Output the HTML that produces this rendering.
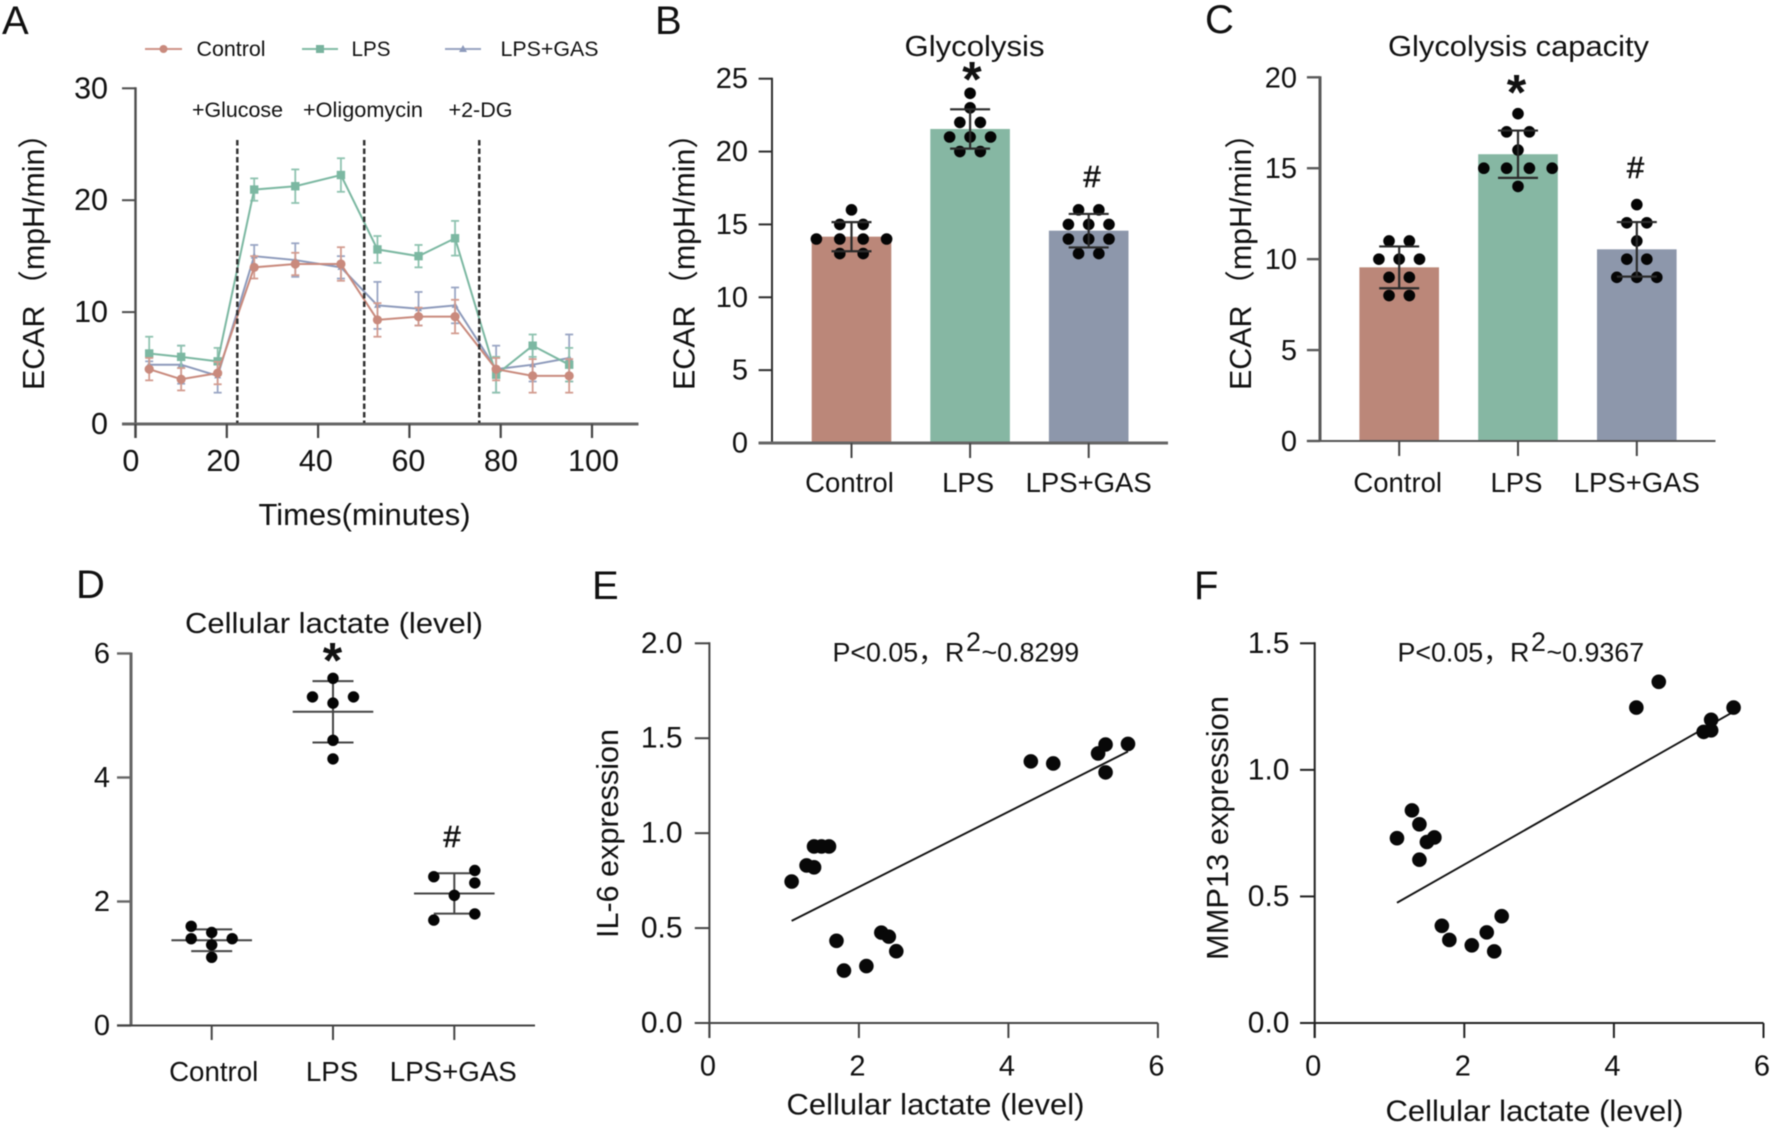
<!DOCTYPE html>
<html lang="en">
<head>
<meta charset="utf-8">
<title>ECAR, glycolysis and cellular lactate figure</title>
<style>
html,body{margin:0;padding:0;background:#fff;}
#figure{display:block;width:1772px;height:1131px;filter:blur(0.55px);}
text{font-family:"Liberation Sans","Noto Sans CJK SC",sans-serif;fill:#111;}
.letter{font-size:40px;}
.ytitle{font-size:30.4px;}
.legend{font-size:21.5px;}
.note{font-size:21px;}
.mark{font-size:50px;font-weight:bold;text-anchor:middle;}
.hash{font-size:31px;text-anchor:middle;stroke:#111;stroke-width:0.6px;}
.ptext{font-size:26.8px;}
</style>
</head>
<body>
<svg id="figure" xmlns="http://www.w3.org/2000/svg" width="1772" height="1131" viewBox="0 0 1772 1131">
  <rect x="0" y="0" width="1772" height="1131" fill="#fff"/>

  <text class="letter" x="2" y="34">A</text>
  <text class="letter" x="655" y="34">B</text>
  <text class="letter" x="1205" y="33">C</text>
  <text class="letter" x="76" y="598">D</text>
  <text class="letter" x="592" y="599">E</text>
  <text class="letter" x="1194" y="599">F</text>

  <g>
    <g>
      <line x1="145" y1="49" x2="182" y2="49" stroke="#cf9488" stroke-width="2"/>
      <circle cx="163.500" cy="49" r="4" fill="#c98a7d"/>
      <text class="legend" x="196.500" y="56" textLength="69" lengthAdjust="spacingAndGlyphs">Control</text>
    </g>
    <g>
      <line x1="302" y1="49" x2="338" y2="49" stroke="#82bba6" stroke-width="2"/>
      <rect x="316" y="45" width="8" height="8" fill="#78b39e"/>
      <text class="legend" x="351.500" y="56" textLength="39" lengthAdjust="spacingAndGlyphs">LPS</text>
    </g>
    <g>
      <line x1="445" y1="49" x2="481" y2="49" stroke="#98a4c2" stroke-width="2"/>
      <polygon points="463,45 467,52 459,52" fill="#8d9abb"/>
      <text class="legend" x="500.500" y="56" textLength="98" lengthAdjust="spacingAndGlyphs">LPS+GAS</text>
    </g>
  </g>

  <text class="note" x="192" y="117" textLength="91" lengthAdjust="spacingAndGlyphs">+Glucose</text>
  <text class="note" x="303" y="117" textLength="120" lengthAdjust="spacingAndGlyphs">+Oligomycin</text>
  <text class="note" x="448.500" y="117" textLength="64" lengthAdjust="spacingAndGlyphs">+2-DG</text>

  <text class="ytitle" transform="translate(44,390) rotate(-90)">ECAR<tspan dx="5">（mpH/min）</tspan></text>
  <text x="258.500" y="525" font-size="31" textLength="212" lengthAdjust="spacingAndGlyphs">Times(minutes)</text>

  <text x="904.500" y="56" font-size="28.500" textLength="140" lengthAdjust="spacingAndGlyphs">Glycolysis</text>
  <text class="ytitle" transform="translate(694.500,390) rotate(-90)">ECAR<tspan dx="5">（mpH/min）</tspan></text>
  <text class="mark" x="972" y="96.500">*</text>
  <text class="hash" x="1092" y="187">#</text>

  <text x="1388" y="56" font-size="28.500" textLength="261" lengthAdjust="spacingAndGlyphs">Glycolysis capacity</text>
  <text class="ytitle" transform="translate(1251,390) rotate(-90)">ECAR<tspan dx="5">（mpH/min）</tspan></text>
  <text class="mark" x="1516.500" y="109.500">*</text>
  <text class="hash" x="1635.500" y="178">#</text>

  <text x="185" y="633" font-size="29" textLength="298" lengthAdjust="spacingAndGlyphs">Cellular lactate (level)</text>
  <text class="mark" x="332.500" y="677.500">*</text>
  <text class="hash" x="452" y="847">#</text>

  <text transform="translate(618,938) rotate(-90)" font-size="31" textLength="209" lengthAdjust="spacingAndGlyphs">IL-6 expression</text>
  <text x="786.500" y="1114.500" font-size="30" textLength="298" lengthAdjust="spacingAndGlyphs">Cellular lactate (level)</text>
  <g>
    <text class="ptext" x="832.500" y="661.500">P&lt;0.05，</text>
    <text class="ptext" x="945" y="661.500">R</text>
    <text class="ptext" x="966" y="651">2</text>
    <text class="ptext" x="981.500" y="661.500">~0.8299</text>
  </g>

  <text transform="translate(1228,960) rotate(-90)" font-size="31" textLength="264" lengthAdjust="spacingAndGlyphs">MMP13 expression</text>
  <text x="1385.500" y="1121" font-size="30" textLength="298" lengthAdjust="spacingAndGlyphs">Cellular lactate (level)</text>
  <g>
    <text class="ptext" x="1397.500" y="661.500">P&lt;0.05，</text>
    <text class="ptext" x="1510" y="661.500">R</text>
    <text class="ptext" x="1531" y="651">2</text>
    <text class="ptext" x="1546.500" y="661.500">~0.9367</text>
  </g>

  <g id="plots"></g>
</svg>

<script>
// ---------- Shared categories ----------
const groupNames = ['Control', 'LPS', 'LPS+GAS'];

// ---------- Panel A data ----------
const aTimes = [3, 10, 18, 26, 35, 45, 53, 62, 70, 79, 87, 95];
const aControl = [4.9, 4.0, 4.55, 14.0, 14.3, 14.3, 9.3, 9.6, 9.6, 4.9, 4.3, 4.3];
const aControlErr = [1.0, 1.0, 1.0, 1.0, 1.0, 1.5, 1.5, 0.8, 1.5, 1.0, 1.5, 1.5];
const aLps = [6.3, 6.0, 5.6, 20.95, 21.25, 22.25, 15.6, 15.0, 16.6, 4.4, 7.0, 5.3];
const aLpsErr = [1.5, 1.0, 1.2, 1.0, 1.5, 1.5, 1.2, 1.0, 1.55, 1.6, 1.0, 1.5];
const aGas = [5.3, 5.3, 4.3, 15.0, 14.65, 14.0, 10.6, 10.3, 10.6, 4.9, 5.3, 5.9];
const aGasErr = [0.3, 1.7, 1.5, 1.0, 1.5, 1.0, 2.1, 1.5, 1.6, 2.1, 1.5, 2.1];
const aInjectionTimes = [22.3, 50.1, 75.3];
const aXTicks = [0, 20, 40, 60, 80, 100];
const aYTicks = [0, 10, 20, 30];

// ---------- Panel B data ----------
const bMeans = [14.16, 21.55, 14.57];
const bErrs = [1.0, 1.35, 1.15];
const bControlDots = [16, 15, 15, 14, 14, 14, 14, 13, 13];
const bLpsDots = [24, 23, 22, 22, 21, 21, 21, 20, 20];
const bGasDots = [16, 16, 15, 15, 15, 14, 14, 14, 13, 13];
const bYTicks = [0, 5, 10, 15, 20, 25];

// ---------- Panel C data ----------
const cMeans = [9.55, 15.77, 10.54];
const cErrs = [1.15, 1.3, 1.5];
const cControlDots = [11, 11, 10, 10, 10, 9, 9, 8, 8];
const cLpsDots = [18, 17, 17, 16, 15, 15, 15, 15, 14];
const cGasDots = [13, 12, 12, 11, 10, 10, 9, 9, 9];
const cYTicks = [0, 5, 10, 15, 20];

// ---------- Panel D data ----------
const dMeans = [1.375, 5.06, 2.13];
const dErrs = [0.175, 0.495, 0.325];
const dControlDots = [1.6, 1.5, 1.4, 1.4, 1.3, 1.1];
const dControlColumns = [-1, 0, -1, 1, 0, 0];
const dLpsDots = [5.6, 5.3, 5.3, 5.2, 4.6, 4.3];
const dLpsColumns = [0, -1, 1, 0, 0, 0];
const dGasDots = [2.5, 2.4, 2.3, 2.1, 1.8, 1.7];
const dGasColumns = [1, -1, 1, 0, 1, -1];
const dYTicks = [0, 2, 4, 6];

// ---------- Panel E data ----------
const eLactate = [1.1, 1.3, 1.4, 1.4, 1.5, 1.6, 1.7, 1.8, 2.1, 2.3, 2.4, 2.5, 4.3, 4.6, 5.2, 5.3, 5.3, 5.6];
const eIl6 = [0.745, 0.83, 0.82, 0.93, 0.93, 0.93, 0.433, 0.276, 0.3, 0.476, 0.455, 0.378, 1.378, 1.367, 1.42, 1.467, 1.32, 1.47];
const eFitX = [1.1, 5.6];
const eFitY = [0.538, 1.43];
const eXTicks = [0, 2, 4, 6];
const eYTicks = ['0.0', '0.5', '1.0', '1.5', '2.0'];

// ---------- Panel F data ----------
const fLactate = [1.1, 1.3, 1.4, 1.4, 1.5, 1.6, 1.7, 1.8, 2.1, 2.3, 2.4, 2.5, 4.3, 4.6, 5.2, 5.3, 5.3, 5.6];
const fMmp13 = [0.73, 0.84, 0.785, 0.645, 0.715, 0.733, 0.384, 0.328, 0.307, 0.358, 0.283, 0.422, 1.246, 1.348, 1.15, 1.156, 1.198, 1.246];
const fFitX = [1.1, 5.6];
const fFitY = [0.475, 1.23];
const fXTicks = [0, 2, 4, 6];
const fYTicks = ['0.0', '0.5', '1.0', '1.5'];

// ---------- Helpers ----------
const SVG_NS = 'http://www.w3.org/2000/svg';
const plots = document.getElementById('plots');

function make(tag, attrs, name, parent) {
  const el = document.createElementNS(SVG_NS, tag);
  Object.keys(attrs).forEach(function (k) { el.setAttribute(k, attrs[k]); });
  
  
  (parent || plots).appendChild(el);
  return el;
}
function line(x1, y1, x2, y2, stroke, width, name, parent) {
  return make('line', { x1: x1, y1: y1, x2: x2, y2: y2, stroke: stroke, 'stroke-width': width }, name, parent);
}
function label(x, y, str, size, anchor, name, parent) {
  const t = make('text', { x: x, y: y, 'font-size': size, 'text-anchor': anchor }, name, parent);
  t.textContent = str;
  return t;
}
function linear(d0, d1, r0, r1) {
  return function (v) { return r0 + (v - d0) * (r1 - r0) / (d1 - d0); };
}
function errorBar(cx, yTop, yBottom, half, stroke, width, name, parent) {
  line(cx, yTop, cx, yBottom, stroke, width, name + '-stem', parent);
  line(cx - half, yTop, cx + half, yTop, stroke, width, name + '-cap-top', parent);
  line(cx - half, yBottom, cx + half, yBottom, stroke, width, name + '-cap-bottom', parent);
}
function yAxis(p, ticks, y, parent) {
  line(p.axisX, y(Number(ticks[ticks.length - 1])) - 1, p.axisX, p.y0 + (p.yAxisTail || 0), p.yColor, p.yWidth, p.id + '-y-axis', parent);
  ticks.forEach(function (t) {
    const py = y(Number(t));
    line(p.tickLeft, py, p.axisX, py, p.yColor, p.yWidth === 3 ? 2.4 : 2, p.id + '-y-tick', parent);
    label(p.labelRight, py + p.labelDy, String(t), p.tickSize, 'end', p.id + '-y-tick-label', parent);
  });
}

// ---------- Panel A ----------
(function () {
  const g = make('g', {}, 'panel-a-line-chart');
  const p = { id: 'a', axisX: 135.5, y0: 424, yColor: '#4d4d4d', yWidth: 2.4, tickLeft: 122, labelRight: 108, labelDy: 10, tickSize: 30.5, yAxisTail: 14 };
  const x = linear(0, 100, 135.5, 592);
  const xLabel = linear(0, 100, 130.8, 593.5);
  const y = linear(0, 30, 424, 88.3);
  yAxis(p, aYTicks, y, g);
  line(122, 424, 638.5, 424, '#666', 3, 'a-x-axis', g);
  aXTicks.forEach(function (t) {
    line(x(t), 424, x(t), 438, '#444', 2.2, 'a-x-tick', g);
    label(xLabel(t), 471, String(t), 30.5, 'middle', 'a-x-tick-label', g);
  });
  const series = [
    { id: 'lps-gas', v: aGas, e: aGasErr, c: '#8d9abb', err: '#9aa6c4' },
    { id: 'lps', v: aLps, e: aLpsErr, c: '#7cb8a2', err: '#8fc3b0' },
    { id: 'control', v: aControl, e: aControlErr, c: '#c98a7d', err: '#d39c90' }
  ];
  series.forEach(function (s) {
    const sg = make('g', {}, 'a-series-' + s.id, g);
    s.v.forEach(function (v, i) {
      errorBar(x(aTimes[i]), y(v + s.e[i]), y(v - s.e[i]), 4, s.err, 1.8, 'a-error-' + s.id, sg);
    });
    const pts = s.v.map(function (v, i) { return x(aTimes[i]) + ',' + y(v); }).join(' ');
    make('polyline', { points: pts, fill: 'none', stroke: s.c, 'stroke-width': 2 }, 'a-line-' + s.id, sg);
    s.v.forEach(function (v, i) {
      const px = x(aTimes[i]), py = y(v);
      if (s.id === 'control') {
        make('circle', { cx: px, cy: py, r: 4.6, fill: s.c }, 'a-point-control', sg);
      } else if (s.id === 'lps') {
        make('rect', { x: px - 4.2, y: py - 4.2, width: 8.4, height: 8.4, fill: s.c }, 'a-point-lps', sg);
      } else {
        make('polygon', { points: px + ',' + (py - 3.5) + ' ' + (px + 3.5) + ',' + (py + 2.5) + ' ' + (px - 3.5) + ',' + (py + 2.5), fill: s.c }, 'a-point-lps-gas', sg);
      }
    });
  });
  aInjectionTimes.forEach(function (t) {
    const d = line(x(t), 140, x(t), 423, '#333', 2.5, 'a-injection-line', g);
    d.setAttribute('stroke-dasharray', '5.5 3');
  });
})();

// ---------- Bar panels B, C ----------
function rowOffsets(values, spacing) {
  const rows = {};
  values.forEach(function (v, i) { (rows[v] = rows[v] || []).push(i); });
  const out = new Array(values.length);
  Object.keys(rows).forEach(function (k) {
    const idx = rows[k];
    idx.forEach(function (vi, j) { out[vi] = (j - (idx.length - 1) / 2) * spacing; });
  });
  return out;
}
const barFills = ['#bb8779', '#86b7a3', '#8d97ab'];
function barPanel(p, means, errs, dots, ticks, spacings) {
  const g = make('g', {}, 'panel-' + p.id + '-bar-chart');
  const y = linear(0, Number(ticks[ticks.length - 1]), p.y0, p.yTop);
  means.forEach(function (m, i) {
    const cx = p.c0 + i * p.step;
    make('rect', { x: cx - 39.8, y: y(m), width: 79.6, height: p.y0 - y(m), fill: barFills[i] }, p.id + '-bar-' + groupNames[i].toLowerCase().replace('+', '-'), g);
  });
  yAxis(p, ticks, y, g);
  line(p.tickLeft, p.y0, p.axisEnd, p.y0, p.xColor, p.xWidth, p.id + '-x-axis', g);
  means.forEach(function (m, i) {
    const cx = p.c0 + i * p.step;
    line(cx, p.y0, cx, p.y0 + 15, '#444', 2, p.id + '-x-tick', g);
    label(cx + p.catDx[i], p.catY, groupNames[i], 27.5, 'middle', p.id + '-category-label', g);
    const off = rowOffsets(dots[i], spacings[i]);
    dots[i].forEach(function (v, j) {
      make('circle', { cx: cx + off[j], cy: y(v), r: 5.8, fill: '#050505' }, p.id + '-dot', g);
    });
    errorBar(cx, y(m + errs[i]), y(m - errs[i]), 20, '#2b2b2b', 2.2, p.id + '-error-bar', g);
  });
}
barPanel({ id: 'b', axisX: 772, y0: 443, yTop: 78.7, tickLeft: 758.6, axisEnd: 1168, labelRight: 748, labelDy: 9.5, tickSize: 29, yColor: '#2e2e2e', yWidth: 2, xColor: '#666', xWidth: 3, c0: 851.5, step: 118.6, catDx: [-2, -2, 0], catY: 492 },
  bMeans, bErrs, [bControlDots, bLpsDots, bGasDots], bYTicks, [23.4, 20.5, 20.3]);
barPanel({ id: 'c', axisX: 1320, y0: 441, yTop: 77.3, tickLeft: 1306.9, axisEnd: 1715.5, labelRight: 1297, labelDy: 10, tickSize: 29, yColor: '#5a5a5a', yWidth: 3, xColor: '#555', xWidth: 2, c0: 1399.2, step: 118.8, catDx: [-1.5, -1.5, 0], catY: 492 },
  cMeans, cErrs, [cControlDots, cLpsDots, cGasDots], cYTicks, [20.3, 22.8, 20]);

// ---------- Panel D ----------
(function () {
  const g = make('g', {}, 'panel-d-scatter-dot-plot');
  const p = { id: 'd', axisX: 131, y0: 1025.5, yColor: '#666', yWidth: 3, tickLeft: 117, labelRight: 110, labelDy: 9.5, tickSize: 29 };
  const y = linear(0, 6, 1025.5, 653.5);
  yAxis(p, dYTicks, y, g);
  line(117, 1025.5, 535, 1025.5, '#444', 2, 'd-x-axis', g);
  const dots = [dControlDots, dLpsDots, dGasDots];
  const cols = [dControlColumns, dLpsColumns, dGasColumns];
  dMeans.forEach(function (m, i) {
    const cx = 211.7 + i * 121.3;
    line(cx, 1025.5, cx, 1040, '#444', 2, 'd-x-tick', g);
    label(cx + [2, -1, -1][i], 1081, groupNames[i], 27.7, 'middle', 'd-category-label', g);
    line(cx - 40.3, y(m), cx + 40.3, y(m), '#444', 2, 'd-mean-line', g);
    errorBar(cx, y(m + dErrs[i]), y(m - dErrs[i]), 20.5, '#444', 2, 'd-error-bar', g);
    dots[i].forEach(function (v, j) {
      make('circle', { cx: cx + cols[i][j] * 20.5, cy: y(v), r: 5.7, fill: '#050505' }, 'd-dot', g);
    });
  });
})();

// ---------- Correlation panels E, F ----------
function corrPanel(p, xs, ys, fitX, fitY, xTicks, yTicks) {
  const g = make('g', {}, 'panel-' + p.id + '-correlation-plot');
  const x = linear(0, 6, p.axisX, p.x6);
  const y = linear(0, Number(yTicks[yTicks.length - 1]), 1023, 643.3);
  yAxis(p, yTicks, y, g);
  line(p.tickLeft, 1023, p.x6, 1023, p.yColor, 2, p.id + '-x-axis', g);
  xTicks.forEach(function (t) {
    line(x(t), 1023, x(t), 1038, p.yColor, 2, p.id + '-x-tick', g);
    label(x(t) - 1.5, 1075.5, String(t), 29, 'middle', p.id + '-x-tick-label', g);
  });
  line(x(fitX[0]), y(fitY[0]), x(fitX[1]), y(fitY[1]), '#111', 1.9, p.id + '-regression-line', g);
  xs.forEach(function (v, i) {
    make('circle', { cx: x(v), cy: y(ys[i]), r: 7.3, fill: '#080808' }, p.id + '-point', g);
  });
}
corrPanel({ id: 'e', axisX: 709.4, x6: 1157.9, y0: 1023, yColor: '#444', yWidth: 2, tickLeft: 694.8, labelRight: 682.6, labelDy: 9.5, tickSize: 30, yAxisTail: 15 },
  eLactate, eIl6, eFitX, eFitY, eXTicks, eYTicks);
corrPanel({ id: 'f', axisX: 1314.7, x6: 1763.5, y0: 1023, yColor: '#222', yWidth: 2, tickLeft: 1300, labelRight: 1289.5, labelDy: 9.5, tickSize: 30, yAxisTail: 15 },
  fLactate, fMmp13, fFitX, fFitY, fXTicks, fYTicks);
</script>
</body>
</html>
